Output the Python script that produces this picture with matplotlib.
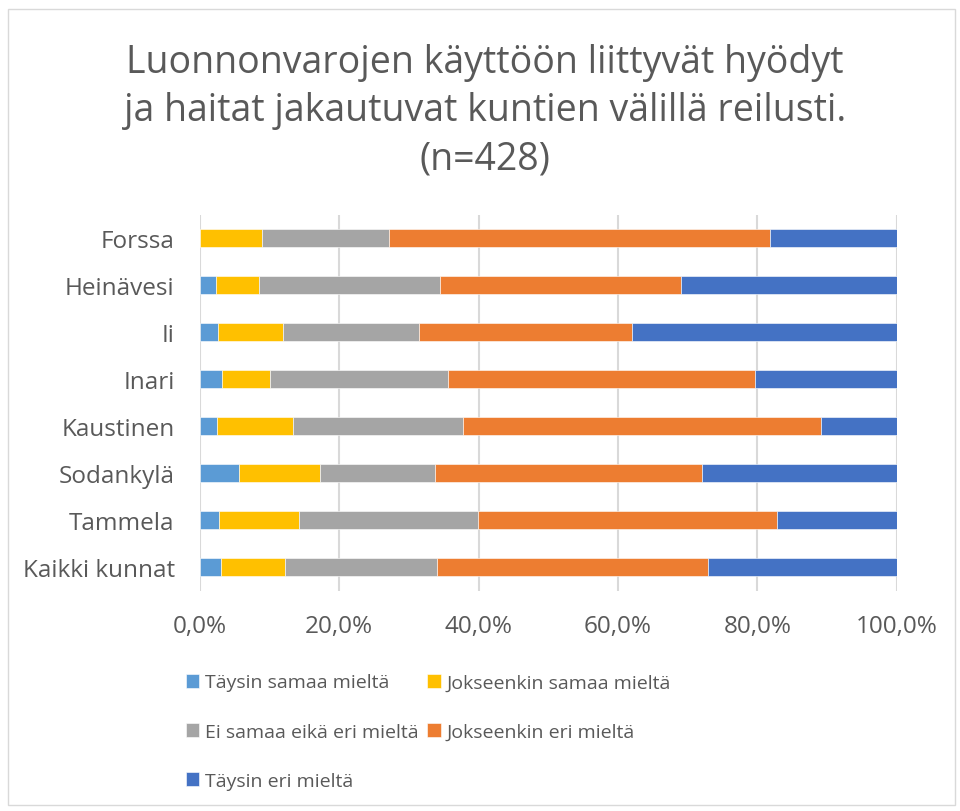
import matplotlib.pyplot as plt
import numpy as np
from matplotlib.patches import Rectangle

plt.rcParams['font.family'] = ['Open Sans', 'DejaVu Sans']

TEXT_COLOR = '#595959'

municipalities = ['Forssa', 'Heinävesi', 'Ii', 'Inari', 'Kaustinen',
                  'Sodankylä', 'Tammela', 'Kaikki kunnat']

# shares in percent
taysin_samaa = [0.0, 2.3, 2.6, 3.2, 2.5, 5.7, 2.7, 3.1]
jokseenkin_samaa = [8.9, 6.2, 9.3, 6.9, 10.9, 11.6, 11.5, 9.1]
ei_samaa_eika_eri = [18.3, 26.0, 19.5, 25.5, 24.4, 16.4, 25.7, 21.8]
jokseenkin_eri = [54.6, 34.6, 30.6, 44.1, 51.4, 38.4, 42.9, 38.9]
taysin_eri = [18.2, 30.9, 38.0, 20.3, 10.8, 27.9, 17.2, 27.1]

series_names = ['Täysin samaa mieltä', 'Jokseenkin samaa mieltä',
                'Ei samaa eikä eri mieltä', 'Jokseenkin eri mieltä',
                'Täysin eri mieltä']
colors = ['#5B9BD5', '#FFC000', '#A5A5A5', '#ED7D31', '#4472C4']

fig = plt.figure(figsize=(9.6, 8.12), dpi=100)
ax = fig.add_axes([199.7 / 960, 1 - 591.5 / 812, 697 / 960, 376 / 812])

y = np.arange(len(municipalities))
left = np.zeros(len(municipalities))
handles = []
for name, vals, col in zip(series_names,
                           [taysin_samaa, jokseenkin_samaa, ei_samaa_eika_eri,
                            jokseenkin_eri, taysin_eri], colors):
    vals = np.array(vals)
    b = ax.barh(y, vals, left=left, height=0.4, color=col, label=name,
                edgecolor='white', linewidth=0.4, zorder=3)
    handles.append(b)
    left += vals

ax.set_xlim(0, 100)
ax.set_ylim(len(municipalities) - 0.5, -0.5)
ax.set_yticks(y)
ax.set_yticklabels(municipalities)
ax.set_xticks(np.arange(0, 101, 20))
ax.set_xticklabels([f'{v:.1f}%'.replace('.', ',') for v in range(0, 101, 20)])
ax.tick_params(axis='both', length=0, labelsize=17.5, colors=TEXT_COLOR)
ax.tick_params(axis='x', pad=17)
ax.tick_params(axis='y', pad=18)
ax.grid(axis='x', color='#D9D9D9', linewidth=1.5, zorder=0)
for s in ax.spines.values():
    s.set_visible(False)

fig.text(0.505, 1 - 44 / 812,
         'Luonnonvarojen käyttöön liittyvät hyödyt\n'
         'ja haitat jakautuvat kuntien välillä reilusti.\n(n=428)',
         ha='center', va='top', fontsize=27, color=TEXT_COLOR,
         linespacing=1.35)

# legend, column-wise order so it reads row by row
order = [0, 2, 4, 1, 3]
leg = fig.legend([handles[i] for i in order], [series_names[i] for i in order],
                 ncol=2, loc='upper left', bbox_to_anchor=(168 / 960, 1 - 657 / 812),
                 frameon=False, fontsize=14, handlelength=0.7, handleheight=0.7,
                 handletextpad=0.3, columnspacing=0.45, labelspacing=1.6,
                 labelcolor=TEXT_COLOR)

fig.patches.append(Rectangle((8 / 960, 1 - 806 / 812), 947 / 960, 796 / 812,
                             transform=fig.transFigure, fill=False,
                             edgecolor='#D9D9D9', linewidth=1))

fig.savefig('out.png', dpi=100)
